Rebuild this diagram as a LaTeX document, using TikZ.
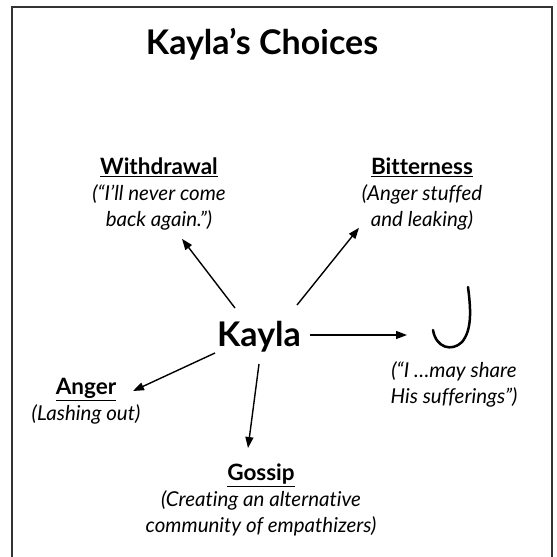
\documentclass[tikz,border=0pt]{standalone}
\usepackage{fontspec}
\setmainfont[Ligatures=NoCommon]{Lato}
\usetikzlibrary{arrows.meta}
\newcommand{\choicehead}[1]{\underline{\upshape\bfseries\fontsize{22.5}{26}\selectfont #1}}
\begin{document}
\begin{tikzpicture}[x=1pt,y=-1pt,
  choice/.style={align=center,inner sep=0pt,anchor=north,
    font=\itshape\fontsize{20.5}{26}\selectfont},
  head/.style={font=\bfseries\fontsize{34}{38}\selectfont},
  arr/.style={line width=1.4pt,-{Triangle[length=11pt,width=8pt]}}]
  \useasboundingbox (0,0) rectangle (557,557);
  \draw[line width=2pt,black!80] (11.5,557) -- (11.5,6.5) -- (551.7,6.5) -- (551.7,557);
  \node[head] (title) at (262,44) {Kayla’s Choices};
  \node[head] (kayla) at (259,337) {Kayla};
  \node[choice] (withdrawal) at (159,158) {\choicehead{Withdrawal}\\
    (“I’ll never come\\ back again.”)};
  \node[choice] (bitterness) at (422,158) {\choicehead{Bitterness}\\
    (Anger stuffed\\ and leaking)};
  \node[choice] (anger) at (86,378) {\choicehead{Anger}\\
    (Lashing out)};
  \node[choice] (gossip) at (261,464) {\choicehead{Gossip}\\
    (Creating an alternative\\ community of empathizers)};
  \node[choice] (share) at (454,361) {(“I …may share\\ His sufferings”)};
  % the hook
  \draw[line width=2.5pt,line cap=round] (468,287) .. controls (471,310) and (472,330) .. (462,342)
    .. controls (452,352) and (436,348) .. (433,330);
  \draw[arr] ([shift={(-24,-29)}]kayla.center) -- ([shift={(23,8)}]withdrawal.south);
  \draw[arr] ([shift={(38,-32)}]kayla.center) -- ([shift={(-63,-3)}]bitterness.south);
  \draw[arr] ([shift={(51,-2)}]kayla.center) -- ([shift={(-47,-26)}]share.north);
  \draw[arr] ([shift={(-44,16)}]kayla.center) -- ([shift={(47,13)}]anger.north);
  \draw[arr] ([shift={(0,27)}]kayla.center) -- ([shift={(-13,-16)}]gossip.north);
\end{tikzpicture}
\end{document}
